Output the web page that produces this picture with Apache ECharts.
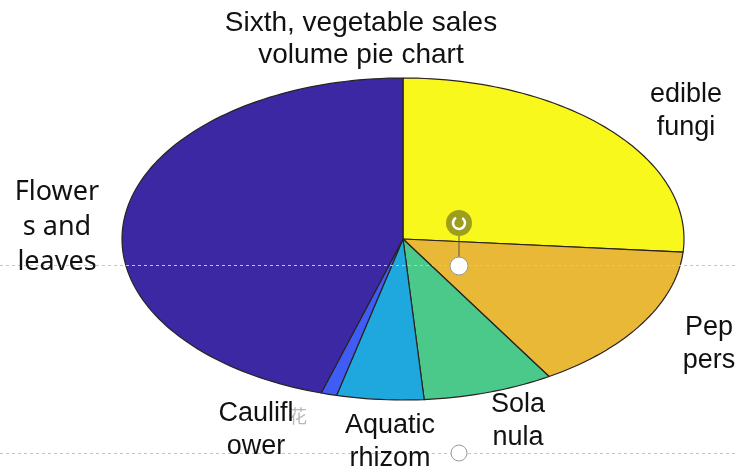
<!DOCTYPE html>
<html>
<head>
<meta charset="utf-8">
<script src="https://cdn.jsdelivr.net/npm/echarts@6/dist/echarts.min.js"></script>
<style>
html,body{margin:0;padding:0;background:#fff;}
#chart{width:738px;height:474px;}
</style>
</head>
<body>
<div id="chart"></div>
<script>
// ---- data ----
const categories = ['edible fungi', 'Peppers', 'Solanaceae', 'Aquatic rhizome', 'Cauliflower', 'Flowers and leaves'];
const values = [26.3, 15.0, 7.5, 5.0, 0.9, 45.3];
const labelLines = [['edible', 'fungi'], ['Pep', 'pers'], ['Sola', 'nula'], ['Aquatic', 'rhizom'], ['Caulifl', 'ower'], ['Flower', 's and', 'leaves']];
const titleLines = ['Sixth, vegetable sales', 'volume pie chart'];

// ---- styles / layout ----
const colors = ['#F8F81C', '#E8B836', '#4BC98B', '#1EA8DD', '#3F5DF4', '#3B28A2'];
const labelPos = [
  {x: 686, y: 95, dy: 33, font: 'Liberation Sans', size: 27},
  {x: 709, y: 328, dy: 33, font: 'Liberation Sans', size: 27},
  {x: 518, y: 405, dy: 33, font: 'Liberation Sans', size: 27},
  {x: 390, y: 426, dy: 33, font: 'Liberation Sans', size: 27},
  {x: 256, y: 414, dy: 33, font: 'Liberation Sans', size: 27},
  {x: 57, y: 192, dy: 35, font: 'Noto Sans', size: 27}
];

const total = values.reduce((a, b) => a + b, 0);
const starts = [];
let acc = 0;
values.forEach(v => { starts.push(acc); acc += v; });

const chart = echarts.init(document.getElementById('chart'), null, {renderer: 'canvas'});

function renderItem(params, api) {
  const i = params.dataIndex;
  const v = api.value(2);
  const a0 = 90 - 360 * starts[i] / total;
  const a1 = a0 - 360 * v / total;
  const pts = [api.coord([0, 0])];
  const n = Math.max(4, Math.ceil(Math.abs(a1 - a0) / 1.5));
  for (let k = 0; k <= n; k++) {
    const a = (a0 + (a1 - a0) * k / n) * Math.PI / 180;
    pts.push(api.coord([Math.cos(a), Math.sin(a)]));
  }
  return {
    type: 'polygon',
    shape: {points: pts},
    style: {fill: colors[i], stroke: '#2a2222', lineWidth: 1.2, lineJoin: 'round'}
  };
}

const graphics = [];
// guide lines (screenshot artifacts)
graphics.push({type: 'line', shape: {x1: 0, y1: 265.5, x2: 738, y2: 265.5}, style: {stroke: '#c4c4c4', lineWidth: 1, lineDash: [3, 3]}, z: 100});
graphics.push({type: 'line', shape: {x1: 0, y1: 453.5, x2: 738, y2: 453.5}, style: {stroke: '#c4c4c4', lineWidth: 1, lineDash: [3, 3]}, z: 100});
titleLines.forEach((t, k) => {
  graphics.push({type: 'text', x: 361, y: 23 + k * 32, style: {text: t, fontFamily: 'Liberation Sans', fontSize: 28, fill: '#111', align: 'center', verticalAlign: 'middle'}, z: 100});
});
labelLines.forEach((lines, i) => {
  const p = labelPos[i];
  lines.forEach((t, k) => {
    graphics.push({type: 'text', x: p.x, y: p.y + k * p.dy, style: {text: t, fontFamily: p.font, fontSize: p.size, fill: '#111', align: 'center', verticalAlign: 'middle'}, z: 100});
  });
});
graphics.push({type: 'text', x: 298, y: 416, style: {text: '花', fontFamily: 'Noto Sans CJK SC', fontSize: 18, fill: '#b8b8b8', align: 'center', verticalAlign: 'middle'}, z: 99});
// selection handles
graphics.push({type: 'line', shape: {x1: 459, y1: 230, x2: 459, y2: 262}, style: {stroke: '#555', lineWidth: 1}, z: 101});
graphics.push({type: 'circle', shape: {cx: 459, cy: 223, r: 13}, style: {fill: '#9E9E1E'}, z: 101});
graphics.push({type: 'arc', shape: {cx: 459, cy: 223, r: 6, startAngle: -1.0, endAngle: 4.2}, style: {stroke: '#fff', lineWidth: 2.5, fill: null}, z: 102});
graphics.push({type: 'circle', shape: {cx: 459, cy: 266, r: 9}, style: {fill: '#fff', stroke: '#999', lineWidth: 1}, z: 101});
graphics.push({type: 'circle', shape: {cx: 459, cy: 453, r: 8}, style: {fill: '#fff', stroke: '#999', lineWidth: 1}, z: 101});

chart.setOption({
  animation: false,
  backgroundColor: '#fff',
  grid: {left: 122, right: 54, top: 78, bottom: 74},
  xAxis: {type: 'value', min: -1, max: 1, show: false},
  yAxis: {type: 'value', min: -1, max: 1, show: false},
  series: [{
    type: 'custom',
    name: 'Vegetable sales volume',
    renderItem: renderItem,
    clip: false,
    encode: {x: 0, y: 1},
    data: values.map((v, i) => ({name: categories[i], value: [0, 0, v]}))
  }],
  graphic: graphics
});
</script>
</body>
</html>
